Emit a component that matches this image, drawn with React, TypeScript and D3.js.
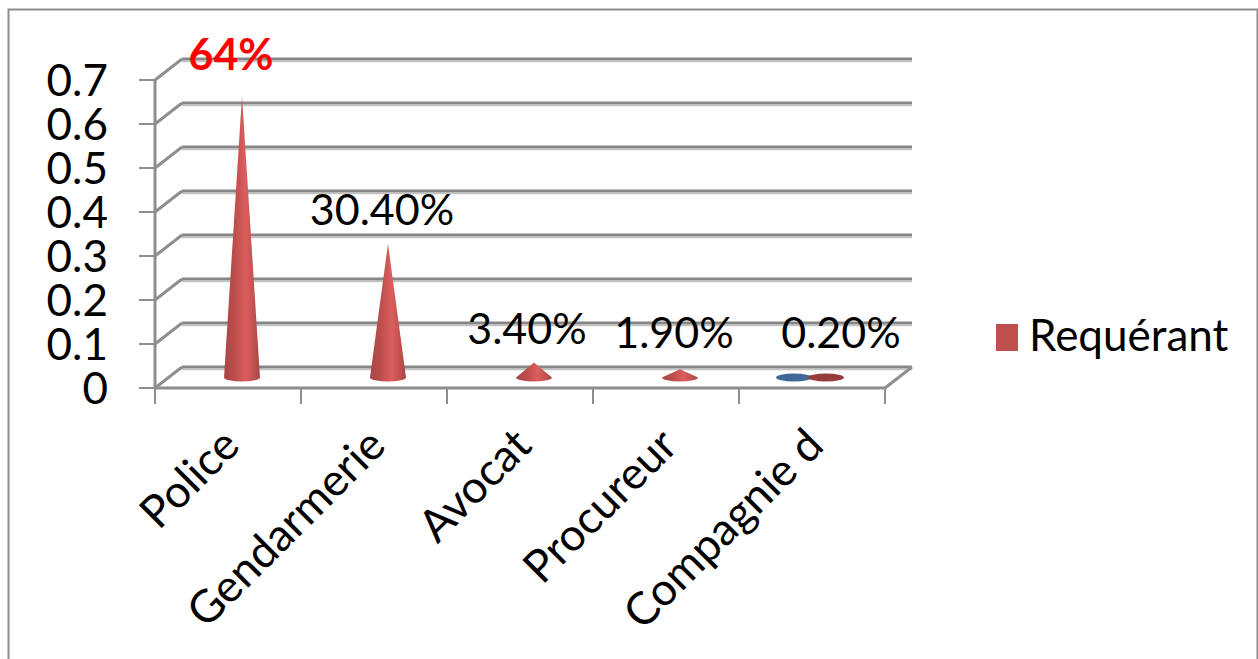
import React from "react";
import * as d3 from "d3";

const categories = ["Police", "Gendarmerie", "Avocat", "Procureur", "Compagnie d"];
const requerant = [0.64, 0.304, 0.034, 0.019, 0.002];
const autre = [null, null, null, null, 0];
const valueLabels = ["64%", "30.40%", "3.40%", "1.90%", "0.20%"];
const labelAnchors = [
  { dx: -11, dy: -26, size: 43, bold: true, color: "#ff0000" },
  { dx: -6, dy: -19, size: 43, bold: false, color: "#000" },
  { dx: -7, dy: -19, size: 43, bold: false, color: "#000" },
  { dx: -6, dy: -21, size: 43, bold: false, color: "#000" },
  { dx: 15, dy: -29, size: 43, bold: false, color: "#000" },
];
const yTicks = [0, 0.1, 0.2, 0.3, 0.4, 0.5, 0.6, 0.7];
const legendLabel = "Requérant";

const FONT = "Lato, 'Open Sans', sans-serif";
const depthX = 27;
const depthY = 21;
const left = 155;
const right = 885;
const floorY = 388;
const topY = 80;
const coneHalf = 18;
const coneRy = 4;

const x = d3.scaleBand<string>().domain(categories).range([left, right]);
const inner = d3.scaleBand<string>().domain(["autre", "requerant"]).range([55, 119]);
const y = d3.scaleLinear().domain([0, 0.7]).range([floorY, topY]);
const floorMid = -depthY / 2;

// A cone seen slightly from above: two straight flanks and a curved front rim.
function conePath(cx: number, baseY: number, apexY: number, half: number) {
  return `M${cx - half},${baseY}L${cx},${apexY}L${cx + half},${baseY}A${half},${coneRy} 0 0 1 ${cx - half},${baseY}Z`;
}

export default function App() {
  const baseline = y(0) + floorMid;
  const peak = (v: number) => y(v) + floorMid;
  return (
    <svg
      width={1258}
      height={659}
      style={{ position: "absolute", left: 0, top: 0, background: "#fff", fontFamily: FONT }}
    >
      <defs>
        <linearGradient id="cone" x1="0" x2="1" y1="0" y2="0">
          <stop offset="0" stopColor="#a84544" />
          <stop offset="0.3" stopColor="#bd4e4d" />
          <stop offset="0.6" stopColor="#dc5e5e" />
          <stop offset="0.8" stopColor="#c45252" />
          <stop offset="1" stopColor="#a84544" />
        </linearGradient>
      </defs>

      <path d="M8.5,659V9.5H1257.5V659" fill="none" stroke="#8c8c8c" strokeWidth={2} />

      {/* Back wall gridlines with their soft lower edge */}
      {yTicks.map((t) => (
        <g key={t}>
          <line x1={left + depthX} x2={right + depthX} y1={y(t) - depthY + 2.5} y2={y(t) - depthY + 2.5} stroke="#c4c4c4" strokeWidth={1.5} />
          <line x1={left + depthX} x2={right + depthX} y1={y(t) - depthY} y2={y(t) - depthY} stroke="#868686" strokeWidth={3} />
          <line x1={left} x2={left + depthX} y1={y(t)} y2={y(t) - depthY} stroke="#8e8e8e" strokeWidth={3} />
          <line x1={left - 16} x2={left} y1={y(t)} y2={y(t)} stroke="#8e8e8e" strokeWidth={2} />
          <text x={108} y={y(t) + 16} fontSize={44} textAnchor="end" fill="#000">
            {t === 0 ? "0" : t}
          </text>
        </g>
      ))}

      {/* Axis frame */}
      <line x1={left} x2={left} y1={y(0.7)} y2={floorY} stroke="#8e8e8e" strokeWidth={3} />
      <line x1={left} x2={right} y1={floorY} y2={floorY} stroke="#8e8e8e" strokeWidth={3} />
      <line x1={right} x2={right + depthX} y1={floorY} y2={floorY - depthY} stroke="#8e8e8e" strokeWidth={3} />
      {[...categories.map((c) => x(c)!), right].map((tx) => (
        <line key={tx} x1={tx} x2={tx} y1={floorY} y2={floorY + 16} stroke="#8e8e8e" strokeWidth={2} />
      ))}

      {/* Secondary series: zero-height discs */}
      {categories.map((c, i) =>
        autre[i] === null ? null : (
          <ellipse
            key={c}
            cx={x(c)! + inner("autre")!}
            cy={baseline}
            rx={coneHalf}
            ry={coneRy}
            fill="#3f6797"
          />
        ),
      )}

      {/* Main series cones */}
      {categories.map((c, i) => {
        const cx = x(c)! + inner("requerant")!;
        const v = requerant[i];
        return v < 0.005 ? (
          <ellipse key={c} cx={cx} cy={baseline} rx={coneHalf} ry={coneRy} fill="#963d3c" />
        ) : (
          <path key={c} d={conePath(cx, baseline, peak(v), coneHalf)} fill="url(#cone)" />
        );
      })}

      {/* Value labels */}
      {categories.map((c, i) => {
        const a = labelAnchors[i];
        return (
          <text
            key={c}
            x={x(c)! + inner("requerant")! + a.dx}
            y={peak(requerant[i]) + a.dy}
            fontSize={a.size}
            fontWeight={a.bold ? 700 : 400}
            fill={a.color}
            textAnchor="middle"
          >
            {valueLabels[i]}
          </text>
        );
      })}

      {/* Category labels */}
      {categories.map((c) => (
        <text
          key={c}
          transform={`translate(${x(c)! + 62},${423}) rotate(-45)`}
          fontSize={45}
          textAnchor="end"
          dominantBaseline="hanging"
          fill="#000"
        >
          {c}
        </text>
      ))}

      {/* Legend */}
      <rect x={996} y={324} width={22} height={27} fill="#c0504d" />
      <text x={1029} y={351} fontSize={44} fill="#000">
        {legendLabel}
      </text>
    </svg>
  );
}
